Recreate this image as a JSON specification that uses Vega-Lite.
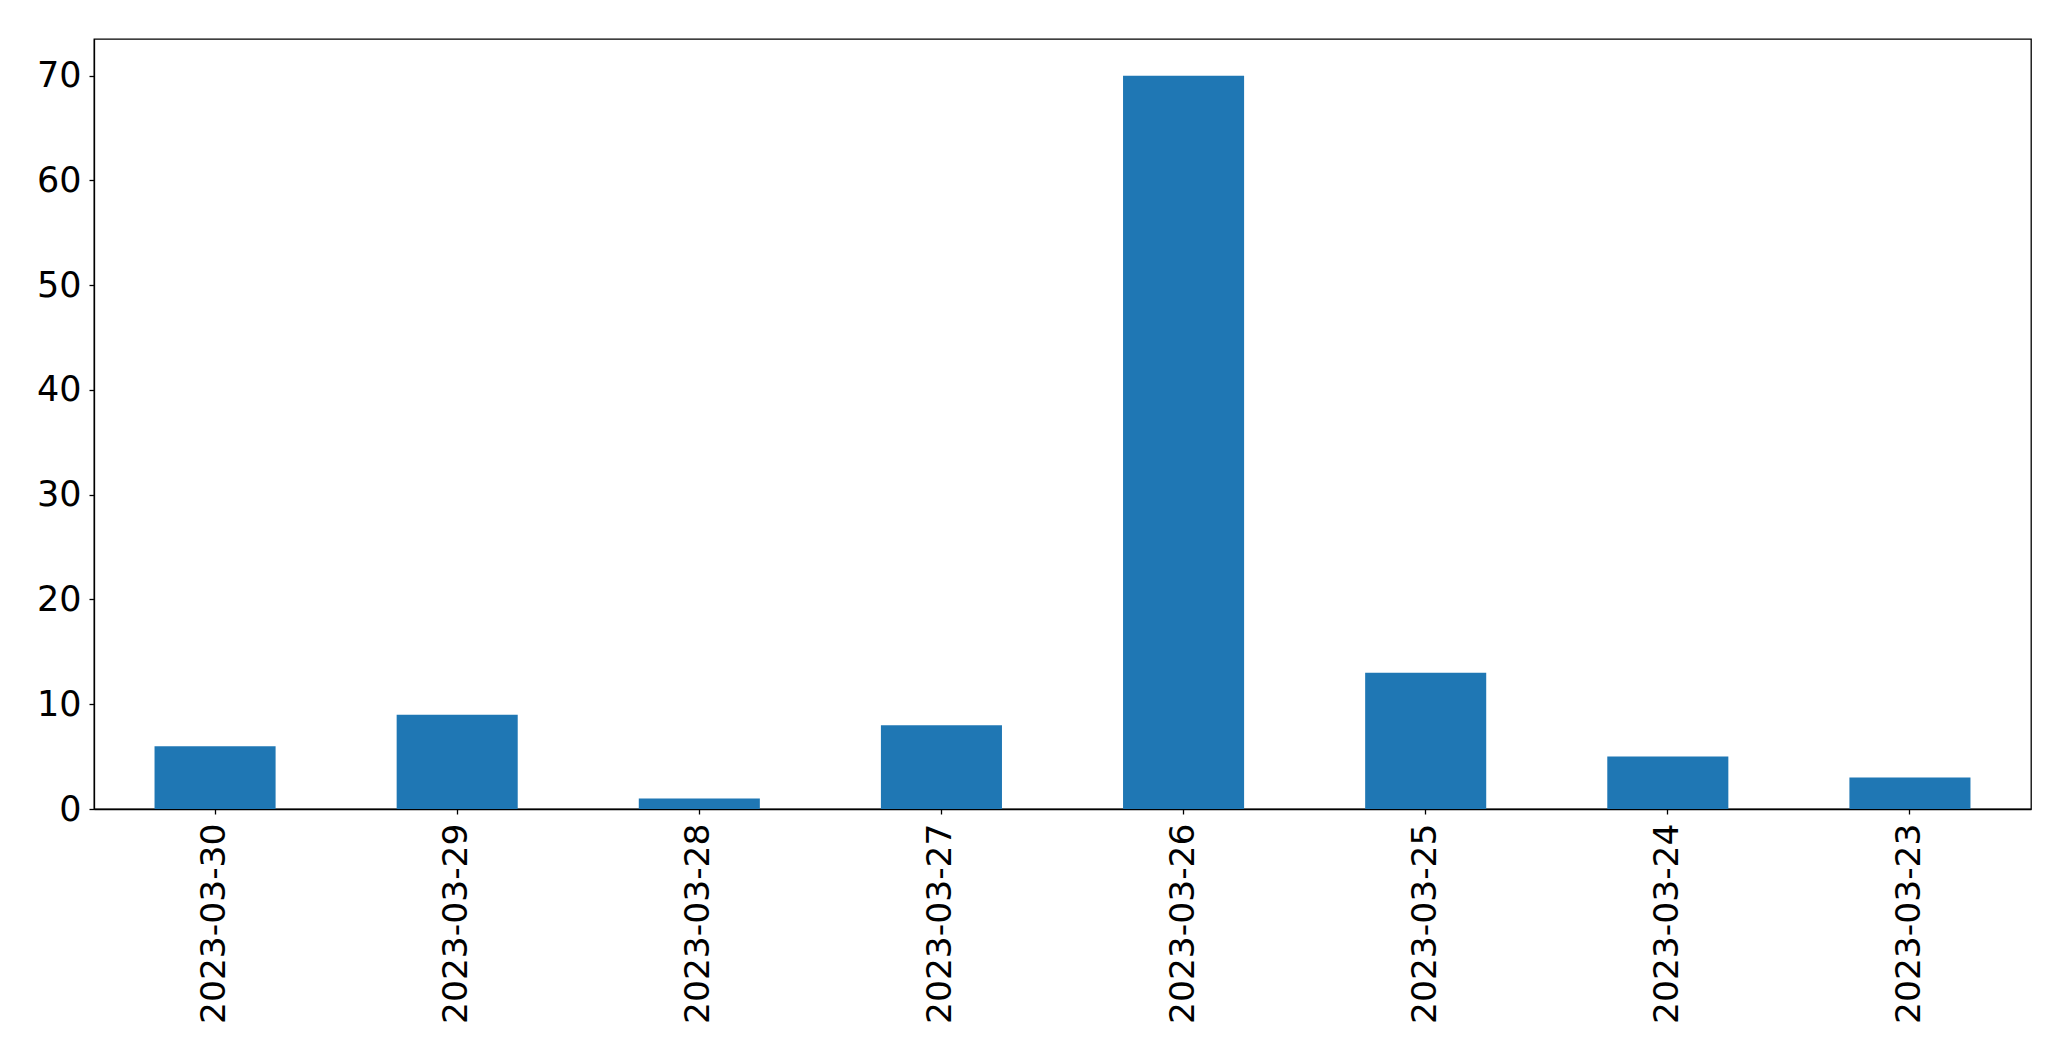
{
  "$schema": "https://vega.github.io/schema/vega-lite/v6.json",
  "autosize": {"type": "none"},
  "padding": {"left": 94, "top": 39, "right": 39, "bottom": 252},
  "width": 1937,
  "height": 770,
  "background": "white",
  "config": {
    "view": {"stroke": "black", "strokeWidth": 1.3},
    "font": "DejaVu Sans"
  },
  "data": {
    "values": [
      {"date": "2023-03-30", "count": 6},
      {"date": "2023-03-29", "count": 9},
      {"date": "2023-03-28", "count": 1},
      {"date": "2023-03-27", "count": 8},
      {"date": "2023-03-26", "count": 70},
      {"date": "2023-03-25", "count": 13},
      {"date": "2023-03-24", "count": 5},
      {"date": "2023-03-23", "count": 3}
    ]
  },
  "mark": {"type": "bar", "color": "#1f77b4"},
  "encoding": {
    "x": {
      "field": "date",
      "type": "nominal",
      "sort": null,
      "scale": {"paddingInner": 0.5, "paddingOuter": 0.25},
      "axis": {
        "title": null,
        "labelAngle": -90,
        "labelAlign": "right",
        "labelBaseline": "middle",
        "labelFontSize": 34.5,
        "labelLimit": 0,
        "labelColor": "black",
        "labelFont": "DejaVu Sans",
        "labelPadding": 9,
        "tickColor": "black",
        "tickSize": 5,
        "tickWidth": 1.3,
        "domainColor": "black",
        "domainWidth": 1.3,
        "grid": false
      }
    },
    "y": {
      "field": "count",
      "type": "quantitative",
      "scale": {"domain": [0, 73.5], "nice": false},
      "axis": {
        "title": null,
        "values": [0, 10, 20, 30, 40, 50, 60, 70],
        "labelFontSize": 35,
        "labelColor": "black",
        "labelFont": "DejaVu Sans",
        "labelPadding": 8,
        "tickColor": "black",
        "tickSize": 5,
        "tickWidth": 1.3,
        "domainColor": "black",
        "domainWidth": 1.3,
        "grid": false
      }
    }
  }
}
